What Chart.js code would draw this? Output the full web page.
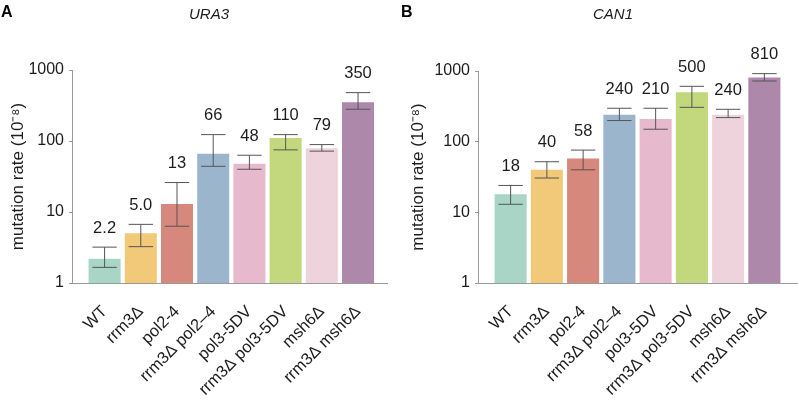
<!DOCTYPE html>
<html>
<head>
<meta charset="utf-8">
<script src="https://cdn.jsdelivr.net/npm/chart.js@4.4.1/dist/chart.umd.min.js"></script>
<style>
  html, body { margin: 0; padding: 0; background: #ffffff; }
  #wrap { position: relative; width: 798px; height: 405px; overflow: hidden; }
  .panel { position: absolute; top: 0; height: 405px; }
  canvas { display: block; }
</style>
</head>
<body>
<div id="wrap">
  <div class="panel" style="left:0;width:400px;"><canvas id="chartA" width="400" height="405"></canvas></div>
  <div class="panel" style="left:400px;width:398px;"><canvas id="chartB" width="398" height="405"></canvas></div>
</div>
<script>
// ---- data ----
const categories = ['WT', 'rrm3Δ', 'pol2-4', 'rrm3Δ pol2–4', 'pol3-5DV', 'rrm3Δ pol3-5DV', 'msh6Δ', 'rrm3Δ msh6Δ'];
const yTicks = [1, 10, 100, 1000];

const ura3Rates  = [2.2, 5.0, 13, 66, 48, 110, 79, 350];
const ura3Upper  = [3.2, 6.7, 26, 123, 63, 123, 89, 480];
const ura3Lower  = [1.66, 3.25, 6.3, 44, 40, 75, 72, 280];
const ura3Labels = ['2.2', '5.0', '13', '66', '48', '110', '79', '350'];

const can1Rates  = [18, 40, 58, 240, 210, 500, 240, 810];
const can1Upper  = [24, 52, 76, 297, 297, 607, 287, 918];
const can1Lower  = [13, 30.6, 40, 199, 150, 306, 219, 722];
const can1Labels = ['18', '40', '58', '240', '210', '500', '240', '810'];

// ---- styling ----
const barColors = ['#a9d5c6', '#f1c978', '#d5887b', '#9bb6cc', '#e6b9cd', '#c3d77d', '#efd3dc', '#ad88ab'];
const FONT = "'Liberation Sans', Arial, Helvetica, sans-serif";
const TEXT = '#1c1c1c';
const AXIS = '#9a9a9a';

const errorBarPlugin = {
  id: 'errorBars',
  afterDatasetsDraw(chart, args, opts) {
    const ctx = chart.ctx;
    const meta = chart.getDatasetMeta(0);
    const y = chart.scales.y;
    ctx.save();
    meta.data.forEach((bar, i) => {
      const top = y.getPixelForValue(opts.upper[i]);
      const bot = y.getPixelForValue(opts.lower[i]);
      const half = bar.width * 0.38;
      ctx.strokeStyle = '#555555';
      ctx.lineWidth = 1;
      ctx.beginPath();
      ctx.moveTo(bar.x, top); ctx.lineTo(bar.x, bot);
      ctx.moveTo(bar.x - half, top); ctx.lineTo(bar.x + half, top);
      ctx.moveTo(bar.x - half, bot); ctx.lineTo(bar.x + half, bot);
      ctx.stroke();
      ctx.fillStyle = TEXT;
      ctx.font = '16.5px ' + FONT;
      ctx.textAlign = 'center';
      ctx.textBaseline = 'middle';
      ctx.fillText(opts.labels[i], bar.x, top - 19);
    });
    ctx.restore();
  }
};

const panelTextPlugin = {
  id: 'panelText',
  afterDraw(chart, args, opts) {
    const ctx = chart.ctx;
    ctx.save();
    ctx.fillStyle = '#000000';
    ctx.font = 'bold 16px ' + FONT;
    ctx.textAlign = 'left';
    ctx.textBaseline = 'alphabetic';
    ctx.fillText(opts.letter, 1, 17);
    ctx.fillStyle = TEXT;
    ctx.font = 'italic 15px ' + FONT;
    ctx.textAlign = 'center';
    ctx.textBaseline = 'middle';
    ctx.fillText(opts.title, opts.titleX, 15);
    ctx.restore();
  }
};

function makeChart(canvasId, cfg) {
  return new Chart(document.getElementById(canvasId), {
    type: 'bar',
    data: {
      datasets: [{
        data: cfg.rates.map((v, i) => ({ x: i, y: v })),
        backgroundColor: barColors,
        borderWidth: 0,
        categoryPercentage: 1,
        barPercentage: 0.885
      }]
    },
    options: {
      responsive: false,
      animation: false,
      devicePixelRatio: 1,
      layout: { padding: { top: cfg.padTop, right: cfg.padRight, left: 0, bottom: 0 } },
      plugins: {
        legend: { display: false },
        tooltip: { enabled: false },
        title: { display: false },
        errorBars: { upper: cfg.upper, lower: cfg.lower, labels: cfg.labels },
        panelText: { letter: cfg.letter, title: cfg.title, titleX: cfg.titleX }
      },
      scales: {
        x: {
          type: 'linear',
          min: -0.9,
          max: cfg.xMax,
          offset: false,
          grid: { display: false, drawTicks: false, offset: false },
          border: { display: true, color: AXIS, width: 1 },
          afterBuildTicks: (scale) => { scale.ticks = categories.map((c, i) => ({ value: i })); },
          afterFit: (scale) => { scale.height = 122; },
          ticks: {
            autoSkip: false,
            minRotation: 45,
            maxRotation: 45,
            padding: 19,
            color: TEXT,
            font: { family: FONT, size: 16.5 },
            callback: (v) => categories[v] !== undefined ? categories[v] : ''
          }
        },
        y: {
          type: 'logarithmic',
          min: 1,
          max: 1000,
          afterBuildTicks: (scale) => { scale.ticks = yTicks.map(v => ({ value: v, major: true })); },
          afterFit: (scale) => { scale.width = cfg.yWidth; },
          grid: { display: true, drawOnChartArea: false, drawTicks: true, tickLength: 3, color: AXIS },
          border: { display: true, color: AXIS, width: 1 },
          ticks: {
            color: TEXT,
            padding: 5,
            font: { family: FONT, size: 16 },
            callback: (v) => String(v)
          },
          title: {
            display: true,
            text: 'mutation rate (10⁻⁸)',
            color: TEXT,
            font: { family: FONT, size: 17 },
            padding: { top: 8, bottom: 0 }
          }
        }
      }
    },
    plugins: [errorBarPlugin, panelTextPlugin]
  });
}

makeChart('chartA', {
  rates: ura3Rates, upper: ura3Upper, lower: ura3Lower, labels: ura3Labels,
  letter: 'A', title: 'URA3', titleX: 209,
  yWidth: 72, padTop: 70, padRight: 13, xMax: 7.8
});
makeChart('chartB', {
  rates: can1Rates, upper: can1Upper, lower: can1Lower, labels: can1Labels,
  letter: 'B', title: 'CAN1', titleX: 213,
  yWidth: 78, padTop: 71, padRight: 1, xMax: 7.9
});
</script>
</body>
</html>
